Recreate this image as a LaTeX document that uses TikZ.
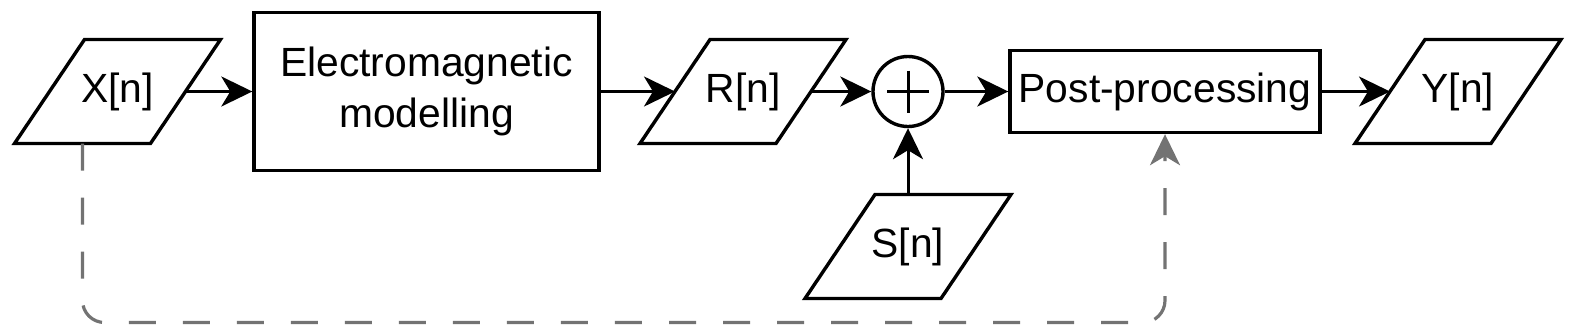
\documentclass[tikz,border=0pt]{standalone}
\usepackage{fontspec}
\setmainfont{Liberation Sans}
\usetikzlibrary{arrows.meta,calc}
\definecolor{dashgray}{RGB}{115,115,115}
\newcommand{\ioshape}[4]{%
  \node[lbl] (#1) at (#2,#3) {#4};
  \draw[shapeline] ($(#1.center)+(-33,-52)$) -- ($(#1.center)+(103,-52)$) -- ($(#1.center)+(33,52)$) -- ($(#1.center)+(-103,52)$) -- cycle;
  \coordinate (#1-e) at ($(#1.center)+(68,0)$);
  \coordinate (#1-w) at ($(#1.center)+(-68,0)$);
  \coordinate (#1-n) at ($(#1.center)+(0,-52)$);
  \coordinate (#1-s) at ($(#1.center)+(-35,52)$);
}
\begin{document}
\begin{tikzpicture}[x=1pt,y=-1pt,
  shapeline/.style={draw=black, line width=3.4pt, line join=miter},
  lbl/.style={font=\fontsize{40.8}{51}\selectfont, inner sep=0pt, align=center},
  boxnode/.style={shapeline, lbl, rectangle},
  tip/.style={-{Stealth[length=31pt,width=30pt,inset=9pt]}},
  conn/.style={draw=black, line width=3pt, tip},
  fb/.style={draw=dashgray, line width=3.2pt, dash pattern=on 27pt off 27pt, rounded corners=22pt, tip}
]
\useasboundingbox (0,0) rectangle (1575,335);

\ioshape{X}{117.5}{91.5}{X[n]}
\ioshape{R}{743}{91.5}{R[n]}
\ioshape{S}{908}{246.5}{S[n]}
\ioshape{Y}{1458}{91.5}{Y[n]}

\node[boxnode, minimum width=345pt, minimum height=158pt] (em) at (426.5,91.5) {Electromagnetic\\modelling};
\node[boxnode, minimum width=310pt, minimum height=82pt] (post) at (1165,91.5) {Post-processing};
\node[shapeline, circle, minimum size=70pt, inner sep=0pt] (sum) at (908,91.5) {};
\draw[line width=3pt] ($(sum.center)+(-21,0)$) -- ($(sum.center)+(21,0)$);
\draw[line width=3pt] ($(sum.center)+(0,-21)$) -- ($(sum.center)+(0,21)$);

\draw[conn] (X-e) -- (em.west);
\draw[conn] (em.east) -- (R-w);
\draw[conn] (R-e) -- (sum.west);
\draw[conn] (sum.east) -- (post.west);
\draw[conn] (post.east) -- (Y-w);
\draw[conn] (S-n) -- (sum.south);
\draw[fb] (X-s) -- ++(0,179) -| (post.south);
\end{tikzpicture}
\end{document}
